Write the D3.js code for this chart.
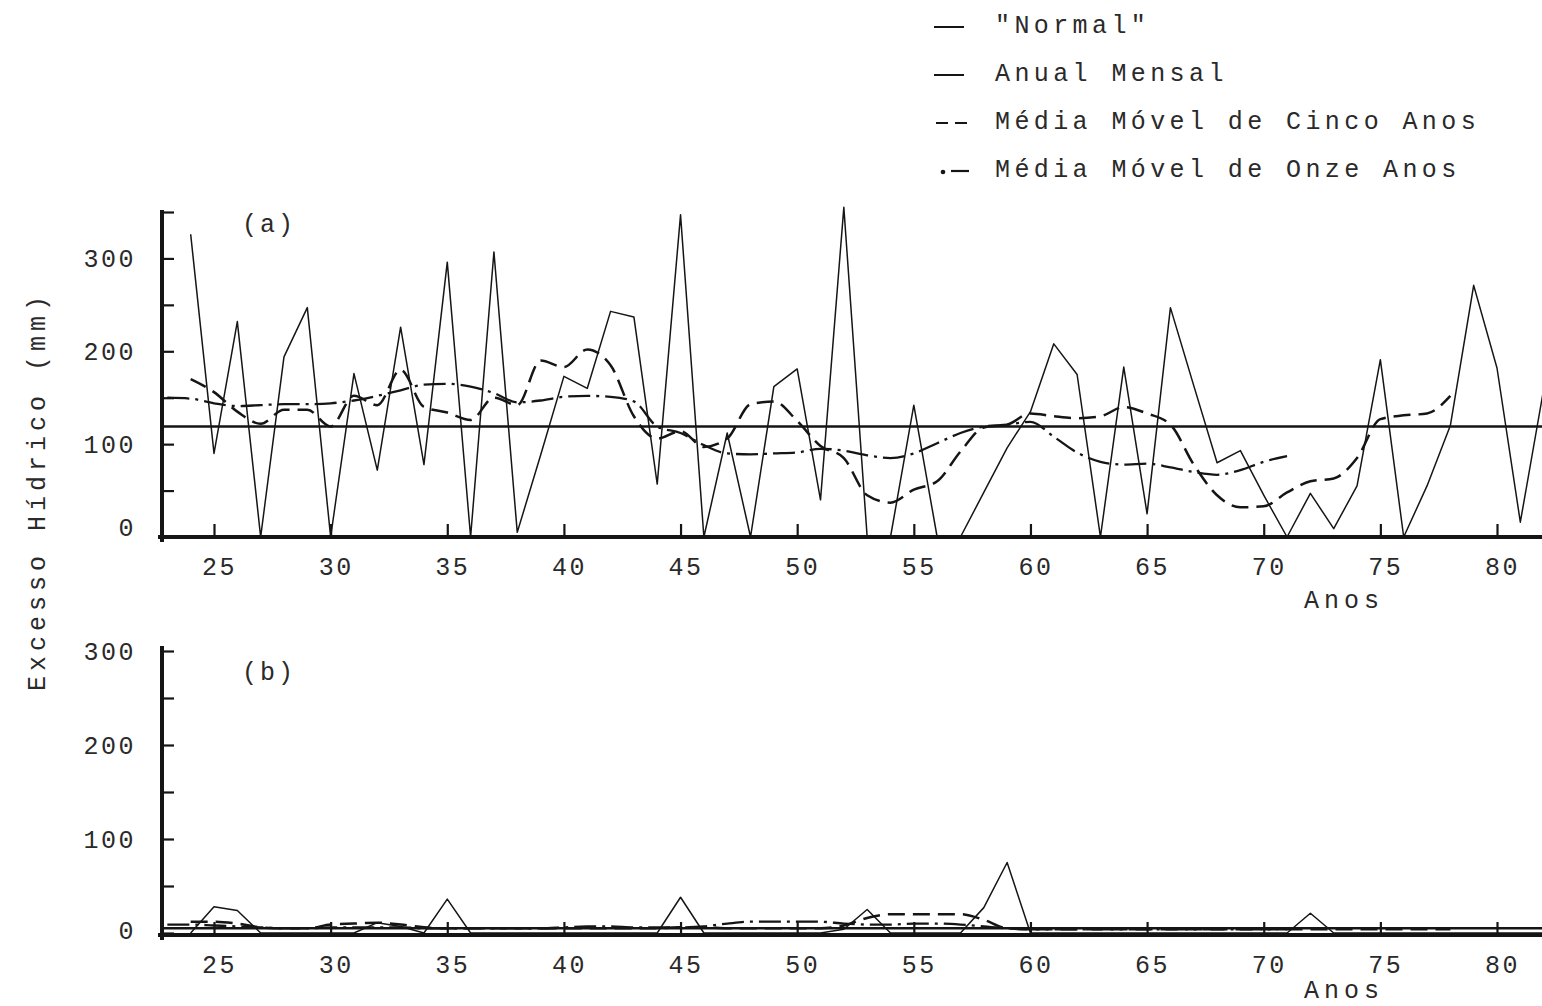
<!DOCTYPE html>
<html>
<head>
<meta charset="utf-8">
<script src="https://cdn.jsdelivr.net/npm/d3@7"></script>
<style>
  html, body { margin: 0; padding: 0; background: #ffffff; }
  svg { display: block; }
  text { font-family: "Liberation Mono", "DejaVu Sans Mono", monospace; fill: #2a2a2a; }
</style>
</head>
<body>
<svg id="chart" width="1542" height="1006"></svg>
<script>
// ---------- data: water excess (mm) by year (19xx) ----------
// panel (a)
const anualYearsA = [24,25,26,27,28,29,30,31,32,33,34,35,36,37,38,39,40,41,42,43,44,45,46,47,48,49,50,51,52,53,54,55,56,57,58,59,60,61,62,63,64,65,66,67,68,69,70,71,72,73,74,75,76,77,78,79,80,81,82];
const anualA = [326,90,232,0,194,247,0,176,72,226,78,296,0,307,5,88,173,160,243,237,57,347,0,112,0,162,181,40,355,0,0,142,0,0,48,96,135,208,175,0,183,25,247,163,80,93,45,0,47,9,55,191,0,55,120,271,182,16,159];

const cincoYearsA = [24,25,26,27,28,29,30,31,32,33,34,35,36,37,38,39,40,41,42,43,44,45,46,47,48,49,50,51,52,53,54,55,56,57,58,59,60,61,62,63,64,65,66,67,68,69,70,71,72,73,74,75,76,77,78];
const cincoA = [170,156,135,122,137,137,119,152,142,180,140,134,126,150,142,190,183,202,185,130,106,114,97,106,143,146,125,98,85,45,37,51,60,92,118,121,133,130,128,130,140,133,121,78,45,32,33,48,60,63,85,127,131,133,152];

const onzeYearsA = [23,24,25,26,27,28,29,30,31,32,33,34,35,36,37,38,39,40,41,42,43,44,45,46,47,48,49,50,51,52,53,54,55,56,57,58,59,60,61,62,63,64,65,66,67,68,69,70,71];
const onzeA = [150,149,144,141,142,143,143,144,147,152,158,164,165,162,155,145,147,151,152,151,146,119,112,99,90,89,90,91,95,93,88,85,90,101,112,119,121,124,108,91,81,78,79,75,70,67,72,81,87];

const normalA = 119;

// panel (b)
const anualYearsB = anualYearsA;
const anualB = [0,28,24,0,0,0,0,0,11,7,0,36,0,0,0,0,0,0,0,0,0,38,0,0,0,0,0,0,4,25,0,0,0,0,27,75,0,0,0,0,0,0,0,0,0,0,0,0,21,0,0,0,0,0,0,0,0,0,0];

const cincoYearsB = cincoYearsA;
const cincoB = [12,12,10,6,5,5,9,10,11,9,6,5,5,5,5,5,5,5,5,5,5,6,6,5,5,5,5,5,8,16,20,20,20,20,14,5,4,4,4,4,4,4,4,4,4,4,4,4,4,4,4,4,4,4,4];

const onzeYearsB = onzeYearsA;
const onzeB = [9,9,8,7,6,5,5,6,6,6,6,5,5,5,5,5,5,6,7,7,6,6,6,7,10,12,12,12,12,10,9,9,10,10,9,7,5,4,4,4,4,4,4,4,4,4,4,4,4];

const normalB = 5;

// axis ticks
const xTicks = [25,30,35,40,45,50,55,60,65,70,75,80];
const yTicksA = [0,50,100,150,200,250,300,350];
const yTicksB = [0,50,100,150,200,250,300];
const yLabels = [0,100,200,300];

const legendLabels = ['"Normal"', 'Anual Mensal', 'Média Móvel de Cinco Anos', 'Média Móvel de Onze Anos'];

// ---------- layout ----------
const svg = d3.select('#chart');
svg.append('rect').attr('width', 1542).attr('height', 1006).attr('fill', '#fff');

const INK = '#151515';
const FONT = '25px';
const axisX0 = 162, axisX1 = 1542;

const x = d3.scaleLinear().domain([25, 80]).range([214, 1497]);

const panels = [
  { id: 'a', base: 537, yTop: 210, y: d3.scaleLinear().domain([0, 350]).range([537, 212]),
    ticks: yTicksA, anualYears: anualYearsA, anual: anualA, cincoYears: cincoYearsA, cinco: cincoA,
    onzeYears: onzeYearsA, onze: onzeA, normal: normalA, tag: '(a)', tagY: 232, anosY: 608 },
  { id: 'b', base: 935, yTop: 646, y: d3.scaleLinear().domain([0, 300]).range([933, 651]),
    ticks: yTicksB, anualYears: anualYearsB, anual: anualB, cincoYears: cincoYearsB, cinco: cincoB,
    onzeYears: onzeYearsB, onze: onzeB, normal: normalB, tag: '(b)', tagY: 680, anosY: 998 }
];

const styles = {
  normal: { w: 2.6, dash: null },
  anual:  { w: 1.5, dash: null },
  cinco:  { w: 2.5, dash: '17,8' },
  onze:   { w: 2.3, dash: '22,6,3,6' }
};

panels.forEach(p => {
  const g = svg.append('g').attr('class', 'panel-' + p.id);
  const y = p.y;

  // y axis: ticks pointing inward, labels on the left
  const yAxis = d3.axisLeft(y)
    .tickValues(p.ticks)
    .tickSizeInner(-12)
    .tickSizeOuter(0)
    .tickPadding(26)
    .tickFormat(d => yLabels.includes(d) ? d3.format('d')(d) : '');
  const yg = g.append('g').attr('transform', `translate(${axisX0},0)`).call(yAxis);
  yg.select('.domain').remove();
  yg.selectAll('.tick line').attr('stroke', INK).attr('stroke-width', 2.2);
  yg.selectAll('.tick text')
    .style('font-size', FONT).style('letter-spacing', '2.5px').attr('fill', '#2a2a2a')
    .attr('dy', d => d === 0 ? (p.id === 'a' ? '-0.05em' : '0.2em') : '0.32em');

  // x axis: ticks pointing upward
  const xAxis = d3.axisBottom(x)
    .tickValues(xTicks)
    .tickSizeInner(-13)
    .tickSizeOuter(0)
    .tickPadding(20)
    .tickFormat(d3.format('d'));
  const xg = g.append('g').attr('transform', `translate(0,${p.base})`).call(xAxis);
  xg.select('.domain').remove();
  xg.selectAll('.tick line').attr('stroke', INK).attr('stroke-width', 2.2);
  xg.selectAll('.tick text')
    .style('font-size', FONT).style('letter-spacing', '2.5px').attr('fill', '#2a2a2a')
    .attr('dx', '5');

  // axis lines
  g.append('line').attr('x1', axisX0).attr('x2', axisX0).attr('y1', p.yTop).attr('y2', p.base + 5)
    .attr('stroke', INK).attr('stroke-width', 4);
  g.append('line').attr('x1', axisX0 - 4).attr('x2', axisX1).attr('y1', p.base).attr('y2', p.base)
    .attr('stroke', INK).attr('stroke-width', 4);

  // series
  const linear = d3.line().x(d => x(d[0])).y(d => y(d[1])).curve(d3.curveLinear);
  const smooth = d3.line().x(d => x(d[0])).y(d => y(d[1])).curve(d3.curveMonotoneX);

  // "Normal" reference line
  g.append('line')
    .attr('x1', axisX0).attr('x2', axisX1)
    .attr('y1', y(p.normal)).attr('y2', y(p.normal))
    .attr('stroke', INK).attr('stroke-width', styles.normal.w);

  const draw = (years, vals, gen, st) => {
    g.append('path')
      .datum(years.map((yr, i) => [yr, vals[i]]))
      .attr('d', gen)
      .attr('fill', 'none')
      .attr('stroke', INK)
      .attr('stroke-width', st.w)
      .attr('stroke-linejoin', 'round')
      .attr('stroke-dasharray', st.dash);
  };
  draw(p.onzeYears, p.onze, smooth, styles.onze);
  draw(p.cincoYears, p.cinco, smooth, styles.cinco);
  draw(p.anualYears, p.anual, linear, styles.anual);

  // panel tag and axis title
  g.append('text').attr('x', 242).attr('y', p.tagY).text(p.tag)
    .style('font-size', FONT).style('letter-spacing', '3px');
  g.append('text').attr('x', 1344).attr('y', p.anosY).attr('text-anchor', 'middle').text('Anos')
    .style('font-size', FONT).style('letter-spacing', '5px');
});

// shared y title
svg.append('text')
  .attr('transform', 'translate(45,491) rotate(-90)')
  .attr('text-anchor', 'middle')
  .style('font-size', FONT).style('letter-spacing', '5px')
  .text('Excesso Hídrico (mm)');

// ---------- legend ----------
const legendRows = [
  { key: 'normal', y: 33 },
  { key: 'anual',  y: 81 },
  { key: 'cinco',  y: 129 },
  { key: 'onze',   y: 177 }
];
const lg = svg.append('g').attr('class', 'legend');
legendRows.forEach((r, i) => {
  const sy = r.y - 6;
  if (r.key === 'normal' || r.key === 'anual') {
    lg.append('line').attr('x1', 934).attr('x2', 964).attr('y1', sy).attr('y2', sy)
      .attr('stroke', INK).attr('stroke-width', 2);
  } else if (r.key === 'cinco') {
    lg.append('line').attr('x1', 936).attr('x2', 968).attr('y1', sy).attr('y2', sy)
      .attr('stroke', INK).attr('stroke-width', 2.2).attr('stroke-dasharray', '12,7');
  } else {
    lg.append('circle').attr('cx', 943).attr('cy', sy + 1).attr('r', 2.3).attr('fill', INK);
    lg.append('line').attr('x1', 951).attr('x2', 969).attr('y1', sy).attr('y2', sy)
      .attr('stroke', INK).attr('stroke-width', 2.2);
  }
  lg.append('text').attr('x', 995).attr('y', r.y).text(legendLabels[i])
    .style('font-size', FONT).style('letter-spacing', '4.4px');
});
</script>
</body>
</html>
